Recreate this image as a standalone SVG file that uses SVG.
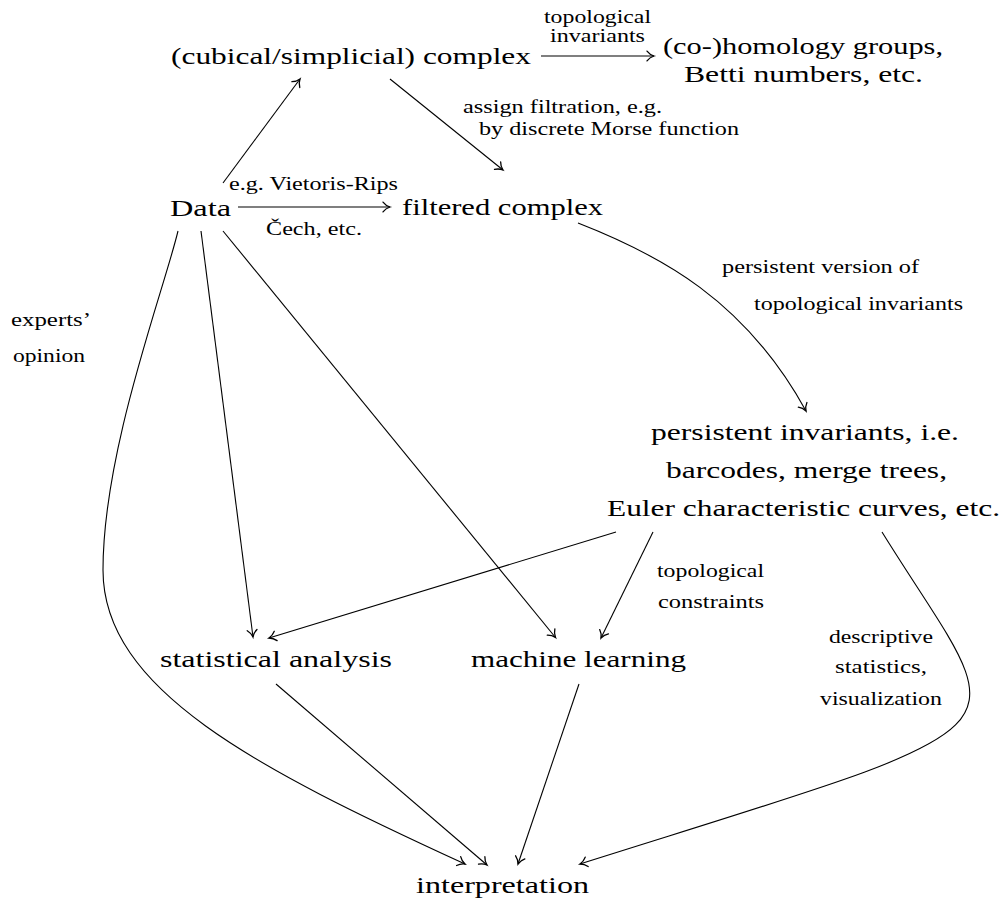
<svg xmlns="http://www.w3.org/2000/svg" width="1004" height="900" viewBox="0 0 1004 900">
<style>
  .big { font-size: 24px; }
  .sm { font-size: 19px; }
  .tight { font-size: 18px; }
  .edge { fill: none; stroke: #000; stroke-width: 1.1; marker-end: url(#to); }
</style>
<defs>
  <marker id="to" markerUnits="userSpaceOnUse" markerWidth="14" markerHeight="14" refX="0" refY="0" viewBox="-8 -6 10 12" orient="auto" overflow="visible">
    <path d="M-6,-4.2 C-4,-1.6 -1.6,-0.5 0,0 C-1.6,0.5 -4,1.6 -6,4.2" fill="none" stroke="#000" stroke-width="1.1" stroke-linecap="round"/>
  </marker>
</defs>
<rect width="1004" height="900" fill="#fff"/>

<g id="connectors">
  <line class="edge" x1="223" y1="183" x2="300" y2="79"/>
  <line class="edge" x1="390" y1="79" x2="503" y2="170"/>
  <line class="edge" x1="238" y1="207" x2="390" y2="207"/>
  <line class="edge" x1="541" y1="56" x2="654" y2="56"/>
  <path class="edge" d="M578,223 C660,255 745,300 806,411"/>
  <path class="edge" d="M178,231 C164,290 103,450 103,570 C103,690 256,768 465,864"/>
  <line class="edge" x1="201" y1="231" x2="253" y2="637"/>
  <line class="edge" x1="223" y1="231" x2="555.5" y2="637.5"/>
  <line class="edge" x1="616" y1="532" x2="269" y2="638"/>
  <line class="edge" x1="653" y1="532" x2="601" y2="638"/>
  <line class="edge" x1="276" y1="684" x2="487" y2="865"/>
  <line class="edge" x1="579" y1="684" x2="518" y2="864"/>
  <path class="edge" d="M882,532 C1014,745 1055,714 580,864"/>
</g>

<g font-family="'Liberation Serif', 'DejaVu Serif', 'Times New Roman', serif" fill="#000">
<g id="edge-labels">
  <text class="tight" x="544" y="23" textLength="107" lengthAdjust="spacingAndGlyphs">topological</text>
  <text class="tight" x="550" y="42" textLength="95" lengthAdjust="spacingAndGlyphs">invariants</text>
  <text class="tight" x="463" y="113" textLength="199" lengthAdjust="spacingAndGlyphs">assign filtration, e.g.</text>
  <text class="tight" x="479" y="135" textLength="260" lengthAdjust="spacingAndGlyphs">by discrete Morse function</text>
  <text class="sm" x="229" y="190" textLength="169" lengthAdjust="spacingAndGlyphs">e.g. Vietoris-Rips</text>
  <text class="sm" x="266" y="235" textLength="96" lengthAdjust="spacingAndGlyphs">Čech, etc.</text>
  <text class="sm" x="11" y="326" textLength="80" lengthAdjust="spacingAndGlyphs">experts’</text>
  <text class="sm" x="13" y="362" textLength="72" lengthAdjust="spacingAndGlyphs">opinion</text>
  <text class="sm" x="722" y="273" textLength="197" lengthAdjust="spacingAndGlyphs">persistent version of</text>
  <text class="sm" x="754" y="310" textLength="209" lengthAdjust="spacingAndGlyphs">topological invariants</text>
  <text class="sm" x="657" y="577" textLength="107" lengthAdjust="spacingAndGlyphs">topological</text>
  <text class="sm" x="658" y="608" textLength="106" lengthAdjust="spacingAndGlyphs">constraints</text>
  <text class="sm" x="829" y="643" textLength="104" lengthAdjust="spacingAndGlyphs">descriptive</text>
  <text class="sm" x="835" y="673" textLength="92" lengthAdjust="spacingAndGlyphs">statistics,</text>
  <text class="sm" x="820" y="705" textLength="122" lengthAdjust="spacingAndGlyphs">visualization</text>
</g>

<g id="node-complex">
  <text class="big" x="171" y="64" textLength="360" lengthAdjust="spacingAndGlyphs">(cubical/simplicial) complex</text>
</g>
<g id="node-homology">
  <text class="big" x="663" y="54" textLength="280" lengthAdjust="spacingAndGlyphs">(co-)homology groups,</text>
  <text class="big" x="684" y="82" textLength="239" lengthAdjust="spacingAndGlyphs">Betti numbers, etc.</text>
</g>
<g id="node-data">
  <text class="big" x="170" y="216" textLength="61" lengthAdjust="spacingAndGlyphs">Data</text>
</g>
<g id="node-filtered">
  <text class="big" x="402" y="215" textLength="201" lengthAdjust="spacingAndGlyphs">filtered complex</text>
</g>
<g id="node-persistent">
  <text class="big" x="651" y="440" textLength="308" lengthAdjust="spacingAndGlyphs">persistent invariants, i.e.</text>
  <text class="big" x="666" y="478" textLength="281" lengthAdjust="spacingAndGlyphs">barcodes, merge trees,</text>
  <text class="big" x="607" y="516" textLength="393" lengthAdjust="spacingAndGlyphs">Euler characteristic curves, etc.</text>
</g>
<g id="node-statistical">
  <text class="big" x="160" y="667" textLength="232" lengthAdjust="spacingAndGlyphs">statistical analysis</text>
</g>
<g id="node-ml">
  <text class="big" x="471" y="667" textLength="215" lengthAdjust="spacingAndGlyphs">machine learning</text>
</g>
<g id="node-interpretation">
  <text class="big" x="416" y="893" textLength="173" lengthAdjust="spacingAndGlyphs">interpretation</text>
</g>
</g>
</svg>
